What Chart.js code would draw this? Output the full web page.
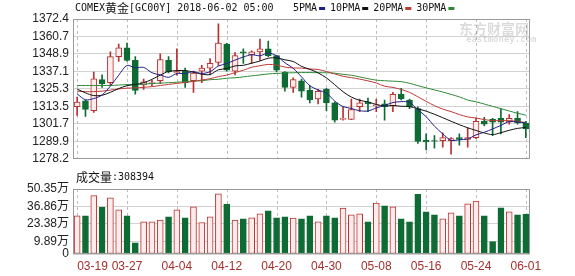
<!DOCTYPE html>
<html>
<head>
<meta charset="utf-8">
<script src="https://cdn.jsdelivr.net/npm/chart.js@4.4.0/dist/chart.umd.min.js"></script>
<style>
  html, body { margin: 0; padding: 0; background: #fff; }
  #wrap { position: relative; width: 575px; height: 276px; }
  #price-box { position: absolute; left: 0; top: 0; width: 575px; height: 170px; }
  #volume-box { position: absolute; left: 0; top: 170px; width: 575px; height: 106px; }
</style>
</head>
<body>
<div id="wrap">
  <div id="price-box"><canvas id="price-chart" width="575" height="170"></canvas></div>
  <div id="volume-box"><canvas id="volume-chart" width="575" height="106"></canvas></div>
</div>
<script>
const dates = ['03-19', '03-20', '03-21', '03-22', '03-23', '03-26', '03-27', '03-28', '03-29', '03-30',
    '04-02', '04-03', '04-04', '04-05', '04-06', '04-09', '04-10', '04-11', '04-12', '04-13',
    '04-16', '04-17', '04-18', '04-19', '04-20', '04-23', '04-24', '04-25', '04-26', '04-27',
    '04-30', '05-01', '05-02', '05-03', '05-04', '05-07', '05-08', '05-09', '05-10', '05-11',
    '05-14', '05-15', '05-16', '05-17', '05-18', '05-21', '05-22', '05-23', '05-24', '05-25',
    '05-28', '05-29', '05-30', '05-31', '06-01'];

const openPrices = [1313.3, 1317.2, 1310.7, 1331.5, 1329.5, 1347.1, 1352.9, 1344.5, 1328.0, 1328.9,
    1330.8, 1344.5, 1336.0, 1337.3, 1330.8, 1337.3, 1339.3, 1343.2, 1355.5, 1337.3,
    1350.3, 1348.4, 1350.3, 1352.3, 1347.7, 1336.7, 1326.3, 1330.8, 1324.3, 1318.5,
    1325.0, 1315.9, 1304.8, 1304.8, 1313.3, 1316.5, 1314.0, 1315.2, 1314.0, 1321.7,
    1317.8, 1312.0, 1290.6, 1290.5, 1290.5, 1290.5, 1292.5, 1291.2, 1292.5, 1303.5,
    1304.8, 1305.5, 1302.9, 1305.5, 1302.3];
const highPrices = [1319.8, 1317.8, 1336.6, 1334.7, 1350.3, 1355.5, 1356.2, 1347.1, 1332.0, 1331.0,
    1349.0, 1347.1, 1352.3, 1339.3, 1337.3, 1341.2, 1345.8, 1369.2, 1356.0, 1349.7,
    1352.3, 1351.0, 1358.8, 1357.5, 1347.7, 1337.0, 1332.8, 1332.0, 1327.6, 1325.0,
    1325.6, 1316.5, 1313.3, 1318.5, 1318.5, 1319.1, 1318.5, 1317.8, 1323.0, 1325.6,
    1318.5, 1313.3, 1295.1, 1293.8, 1295.7, 1292.5, 1295.0, 1299.0, 1305.5, 1306.1,
    1305.5, 1312.0, 1308.0, 1310.0, 1303.5];
const lowPrices = [1307.4, 1306.8, 1309.4, 1326.3, 1328.2, 1343.8, 1344.0, 1321.7, 1325.0, 1327.5,
    1328.9, 1336.0, 1334.5, 1326.3, 1323.0, 1329.5, 1334.7, 1341.2, 1337.3, 1334.7,
    1342.5, 1342.5, 1344.5, 1347.0, 1336.7, 1323.7, 1323.0, 1319.8, 1315.9, 1315.2,
    1310.7, 1302.9, 1304.2, 1304.5, 1310.0, 1310.0, 1310.0, 1304.2, 1310.0, 1317.8,
    1312.0, 1288.6, 1284.1, 1285.4, 1286.0, 1281.4, 1287.3, 1286.0, 1291.8, 1300.3,
    1293.8, 1295.0, 1301.6, 1301.6, 1292.5];
const closePrices = [1316.5, 1311.5, 1332.1, 1328.9, 1347.1, 1352.9, 1344.5, 1324.3, 1330.0, 1329.5,
    1345.1, 1336.7, 1337.0, 1329.5, 1336.0, 1339.3, 1342.5, 1356.2, 1338.0, 1347.7,
    1349.5, 1350.3, 1352.3, 1347.7, 1338.0, 1326.3, 1331.5, 1323.7, 1317.8, 1323.7,
    1315.9, 1304.2, 1305.5, 1311.4, 1315.9, 1315.2, 1314.6, 1313.3, 1321.7, 1318.5,
    1313.3, 1289.9, 1289.5, 1290.0, 1292.5, 1291.8, 1291.2, 1292.5, 1303.5, 1301.6,
    1302.9, 1302.9, 1305.5, 1302.3, 1298.3];

const ma5 = [1321.9, 1318.0, 1318.8, 1321.2, 1327.2, 1334.5, 1341.1, 1339.5, 1339.8, 1336.2,
    1334.7, 1333.1, 1335.7, 1335.6, 1336.9, 1335.7, 1336.9, 1340.7, 1342.4, 1344.7,
    1346.8, 1348.3, 1347.6, 1349.5, 1347.6, 1342.9, 1339.2, 1333.4, 1327.5, 1324.6,
    1322.5, 1317.1, 1313.4, 1312.1, 1310.6, 1310.4, 1312.5, 1314.1, 1316.1, 1316.7,
    1316.3, 1311.3, 1306.6, 1300.2, 1295.0, 1290.7, 1291.0, 1291.6, 1294.3, 1296.1,
    1298.3, 1300.7, 1303.3, 1303.0, 1302.4];
const ma10 = [1325.2, 1322.6, 1320.8, 1321.0, 1323.0, 1325.5, 1327.5, 1328.3, 1329.5, 1331.7,
    1334.6, 1337.1, 1337.6, 1337.7, 1336.6, 1335.2, 1335.0, 1338.2, 1339.0, 1340.8,
    1341.2, 1342.6, 1344.1, 1346.0, 1346.2, 1344.9, 1343.8, 1340.5, 1338.5, 1336.1,
    1332.7, 1328.1, 1323.4, 1319.8, 1317.6, 1316.5, 1314.8, 1313.8, 1314.1, 1313.6,
    1313.4, 1311.9, 1310.3, 1308.2, 1305.9, 1303.5, 1301.2, 1299.1, 1297.3, 1295.6,
    1294.5, 1295.8, 1297.4, 1298.7, 1299.3];
const ma20 = [1323.8, 1323.4, 1323.5, 1323.8, 1324.5, 1325.3, 1325.8, 1326.0, 1326.4, 1326.8,
    1327.6, 1328.3, 1329.0, 1329.6, 1330.4, 1331.3, 1332.2, 1333.6, 1334.6, 1336.3,
    1337.9, 1339.9, 1340.9, 1341.8, 1341.4, 1340.0, 1339.4, 1339.3, 1338.7, 1338.4,
    1337.0, 1335.4, 1333.8, 1332.9, 1331.9, 1330.7, 1329.3, 1327.1, 1326.3, 1324.9,
    1323.0, 1320.0, 1316.9, 1314.0, 1311.7, 1310.0, 1308.0, 1306.4, 1305.7, 1304.6,
    1304.0, 1303.9, 1303.9, 1303.4, 1302.6];
const ma30 = [1327.6, 1327.6, 1327.6, 1327.6, 1327.6, 1327.9, 1328.2, 1328.2, 1328.5, 1328.9,
    1329.2, 1329.5, 1329.8, 1330.2, 1330.5, 1330.8, 1331.5, 1331.8, 1332.5, 1332.8,
    1333.4, 1334.1, 1334.7, 1335.4, 1335.7, 1336.0, 1336.2, 1336.3, 1336.3, 1336.2,
    1336.2, 1335.9, 1335.1, 1334.5, 1333.4, 1332.2, 1331.2, 1330.8, 1330.5, 1330.2,
    1329.1, 1327.5, 1326.0, 1324.6, 1323.2, 1321.6, 1319.9, 1317.8, 1316.6, 1315.1,
    1313.5, 1312.0, 1310.4, 1308.9, 1307.6];

// 成交量, 单位: 万
const volumes = [29.6, 29.6, 45.2, 36.1, 43.6, 34.3, 29.6, 8.6, 24.9, 24.9,
    26.2, 28.8, 34.3, 28.0, 36.6, 24.4, 28.8, 46.7, 38.4, 26.2,
    27.2, 28.0, 31.1, 33.5, 28.0, 28.8, 27.8, 27.2, 29.6, 24.9,
    29.6, 28.0, 35.6, 30.4, 31.1, 24.9, 39.4, 37.4, 36.6, 27.2,
    24.9, 46.2, 32.7, 30.4, 27.2, 31.9, 29.6, 38.9, 41.0, 29.6,
    9.6, 35.8, 32.7, 30.4, 30.84];

const priceTicks = [1278.2, 1289.9, 1301.7, 1313.5, 1325.3, 1337.1, 1348.9, 1360.7, 1372.4];
const volumeTicks = [0, 9.89, 23.38, 36.86, 50.35];

const MONO = "'DejaVu Sans Mono', monospace";
const CJK = "'Noto Sans CJK SC', sans-serif";
const SANS = "'Liberation Sans', 'Noto Sans CJK SC', sans-serif";

const UP_LINE = '#b83232';
const UP_FILL = '#fdeceb';
const DOWN = '#0f6b34';

const isUp = openPrices.map((o, i) => closePrices[i] >= o);

const maStyles = [
    { label: '5PMA', data: ma5, color: '#1f1f8a' },
    { label: '10PMA', data: ma10, color: '#111111' },
    { label: '20PMA', data: ma20, color: '#bb3b35' },
    { label: '30PMA', data: ma30, color: '#2f8a35' }
];

// dashed verticals every 6 sessions + grey frame round the plot area
const panelFrame = {
    id: 'panelFrame',
    beforeDatasetsDraw(chart) {
        const { ctx, chartArea: a, scales: { x } } = chart;
        ctx.save();
        ctx.strokeStyle = '#bdbdbd';
        ctx.lineWidth = 1;
        ctx.setLineDash([3, 3]);
        dates.forEach((d, i) => {
            if (i % 6 !== 0) return;
            const px = Math.round(x.getPixelForValue(i)) + 0.5;
            ctx.beginPath();
            ctx.moveTo(px, a.top);
            ctx.lineTo(px, a.bottom);
            ctx.stroke();
        });
        ctx.restore();
    },
    afterDraw(chart) {
        const { ctx, chartArea: a } = chart;
        ctx.save();
        ctx.strokeStyle = '#9a9a9a';
        ctx.lineWidth = 1;
        ctx.strokeRect(Math.round(a.left) + 0.5, Math.round(a.top) + 0.5,
            Math.round(a.width) - 1, Math.round(a.height) - 1);
        ctx.restore();
    }
};

const priceHeader = {
    id: 'priceHeader',
    beforeDatasetsDraw(chart) {
        // faint watermark
        const ctx = chart.ctx;
        ctx.save();
        ctx.fillStyle = 'rgba(0, 0, 0, 0.14)';
        ctx.textBaseline = 'middle';
        ctx.font = 'bold 14px ' + CJK;
        ctx.fillText('东方财富网', 459, 29);
        ctx.font = 'bold 9px ' + MONO;
        ctx.fillText('eastmoney.com', 466, 40);
        ctx.restore();
    },
    afterDraw(chart) {
        const ctx = chart.ctx;
        const y = 8;
        ctx.save();
        ctx.textBaseline = 'middle';
        ctx.fillStyle = '#111';
        let x = 75;
        [['COMEX', '10px ' + MONO], ['黄金', '12px ' + CJK], ['[GC00Y] 2018-06-02 05:00', '10px ' + MONO]]
            .forEach(([t, f]) => {
                ctx.font = f;
                ctx.fillText(t, x, y);
                x += ctx.measureText(t).width;
            });

        x = 293;
        ctx.font = '10px ' + MONO;
        maStyles.forEach(m => {
            ctx.fillStyle = '#111';
            ctx.fillText(m.label, x, y);
            x += ctx.measureText(m.label).width + 2;
            ctx.fillStyle = m.color;
            ctx.fillRect(x, y - 1, 6, 3);
            x += 11;
        });
        ctx.restore();
    }
};

const volumeHeader = {
    id: 'volumeHeader',
    afterDraw(chart) {
        const { ctx, scales: { x } } = chart;
        ctx.save();
        ctx.textBaseline = 'middle';
        ctx.fillStyle = '#111';
        ctx.font = '12px ' + CJK;
        ctx.fillText('成交量', 76, 7);
        let px = 76 + ctx.measureText('成交量').width;
        ctx.font = '10px ' + MONO;
        ctx.fillText(':308394', px, 7);

        ctx.fillStyle = '#a3302c';
        ctx.font = '12px ' + SANS;
        dates.forEach((d, i) => {
            if (i % 6 !== 0) return;
            const cx = x.getPixelForValue(i);
            ctx.textAlign = i === 0 ? 'left' : 'center';
            ctx.fillText(d, cx, 97);
        });
        ctx.restore();
    }
};

function createPriceChart() {
    const ctx = document.getElementById('price-chart');
    if (!ctx) {
        console.error("Canvas element for price chart not found!");
        return null;
    }

    const lines = maStyles.map(m => ({
        type: 'line',
        label: m.label,
        data: m.data,
        borderColor: m.color,
        borderWidth: 1,
        pointRadius: 0,
        tension: 0.3,
        order: 0
    }));

    return new Chart(ctx, {
        type: 'bar',
        data: {
            labels: dates,
            datasets: [
                ...lines,
                {
                    label: 'body',
                    data: openPrices.map((o, i) => [o, closePrices[i]]),
                    backgroundColor: isUp.map(u => u ? UP_FILL : DOWN),
                    borderColor: isUp.map(u => u ? UP_LINE : DOWN),
                    borderWidth: 1,
                    borderSkipped: false,
                    barThickness: 6,
                    grouped: false,
                    order: 1
                },
                {
                    label: 'wick',
                    data: lowPrices.map((l, i) => [l, highPrices[i]]),
                    backgroundColor: isUp.map(u => u ? UP_LINE : DOWN),
                    borderWidth: 0,
                    barThickness: 1,
                    grouped: false,
                    order: 2
                }
            ]
        },
        options: {
            responsive: false,
            animation: false,
            events: [],
            layout: {
                padding: { left: 0, right: 45, top: 19, bottom: 6 }
            },
            plugins: {
                legend: { display: false },
                tooltip: { enabled: false }
            },
            scales: {
                x: {
                    display: false,
                    offset: true
                },
                y: {
                    min: 1278.2,
                    max: 1372.4,
                    afterBuildTicks: s => { s.ticks = priceTicks.map(v => ({ value: v })); },
                    afterFit: s => { s.width = 73; },
                    grid: { color: '#d2d2d2', drawTicks: false },
                    border: { display: false },
                    ticks: {
                        autoSkip: false,
                        padding: 4,
                        color: '#222',
                        font: { family: SANS, size: 12 },
                        callback: v => v.toFixed(1)
                    }
                }
            }
        },
        plugins: [panelFrame, priceHeader]
    });
}

function createVolumeChart() {
    const ctx = document.getElementById('volume-chart');
    if (!ctx) {
        console.error("Canvas element for volume chart not found!");
        return null;
    }

    return new Chart(ctx, {
        type: 'bar',
        data: {
            labels: dates,
            datasets: [{
                label: '成交量',
                data: volumes,
                backgroundColor: isUp.map(u => u ? UP_FILL : DOWN),
                borderColor: isUp.map(u => u ? UP_LINE : DOWN),
                borderWidth: 1,
                borderSkipped: false,
                barThickness: 6
            }]
        },
        options: {
            responsive: false,
            animation: false,
            events: [],
            layout: {
                padding: { left: 0, right: 45, top: 19, bottom: 22 }
            },
            plugins: {
                legend: { display: false },
                tooltip: { enabled: false }
            },
            scales: {
                x: {
                    display: false,
                    offset: true
                },
                y: {
                    min: 0,
                    max: 50.35,
                    afterBuildTicks: s => { s.ticks = volumeTicks.map(v => ({ value: v })); },
                    afterFit: s => { s.width = 73; },
                    grid: { color: '#d2d2d2', drawTicks: false },
                    border: { display: false },
                    ticks: {
                        autoSkip: false,
                        padding: 4,
                        color: '#222',
                        font: { family: SANS, size: 12 },
                        callback: v => v === 0 ? '0' : v.toFixed(2) + '万'
                    }
                }
            }
        },
        plugins: [panelFrame, volumeHeader]
    });
}

createPriceChart();
createVolumeChart();
</script>
</body>
</html>
